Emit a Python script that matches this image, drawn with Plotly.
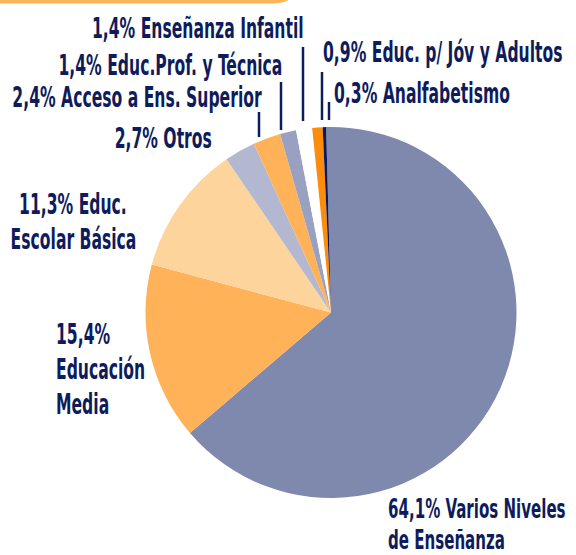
import plotly.graph_objects as go

W, H = 576, 555

categories = ["Varios Niveles de Enseñanza", "Educación Media", "Educ. Escolar Básica",
              "Otros", "Acceso a Ens. Superior", "Educ.Prof. y Técnica",
              "Enseñanza Infantil", "Educ. p/ Jóv y Adultos", "Analfabetismo"]
values = [64.1, 15.4, 11.3, 2.7, 2.4, 1.4, 1.4, 0.9, 0.3]
colors = ["#7f89ad", "#ffb257", "#fdd49b", "#b3b8d0", "#ffb257", "#9aa0bf",
          "#ffffff", "#fb8c0c", "#0b1a5e"]
label_texts = ["64,1% Varios Niveles<br>de Enseñanza", "15,4%<br>Educación<br>Media",
               "11,3% Educ.<br>Escolar Básica", "2,7% Otros", "2,4% Acceso a Ens. Superior",
               "1,4% Educ.Prof. y Técnica", "1,4% Enseñanza Infantil",
               "0,9% Educ. p/ Jóv y Adultos", "0,3% Analfabetismo"]

TEXT = "#0e1c5c"
FONT = "DejaVu Sans Condensed, DejaVu Sans, sans-serif"

def px(x):
    return x / W

def py(y):
    return 1 - y / H

fig = go.Figure(go.Pie(
    labels=categories, values=values, sort=False, direction="clockwise",
    rotation=-1.5, marker=dict(colors=colors, line=dict(width=0)),
    textinfo="none", hoverinfo="label+percent", showlegend=False,
    domain=dict(x=[px(145), px(517)], y=[py(498), py(127)]),
))

# label placement: (pixel x, first-line pixel y, line spacing, xanchor, font size)
placement = [
    (387, 508, 31, "left", 27),
    (55, 334, 35, "left", 28),
    (73, 204, 35, "center", 28),
    (213, 138, 0, "right", 28),
    (263, 97, 0, "right", 28),
    (283, 65, 0, "right", 28),
    (305, 28, 0, "right", 28),
    (322, 52, 0, "left", 28),
    (333, 93, 0, "left", 28),
]
for txt, (x, y, dy, xa, fs) in zip(label_texts, placement):
    for i, line in enumerate(txt.split("<br>")):
        fig.add_annotation(text=line, x=px(x), y=py(y + i * dy), xref="paper", yref="paper",
                           xanchor=xa, yanchor="middle", align=xa, borderpad=0,
                           showarrow=False,
                           font=dict(family=FONT, size=fs, color=TEXT, weight="bold"))

# leader lines
leaders = [(259, 112, 137), (281, 82, 130), (303, 47, 121), (322, 72, 120), (329, 102, 120)]
for x, y0, y1 in leaders:
    fig.add_shape(type="line", xref="paper", yref="paper", x0=px(x), x1=px(x),
                  y0=py(y0), y1=py(y1), line=dict(color=TEXT, width=2.5))

# orange frame edge at top
path = f"M {px(-5)},{py(1.5)} L {px(272)},{py(1.5)} Q {px(285)},{py(1.5)} {px(293)},{py(-5)}"
fig.add_shape(type="path", xref="paper", yref="paper", path=path,
              line=dict(color="#fbb45c", width=4))

fig.update_layout(width=W, height=H, margin=dict(l=0, r=0, t=0, b=0),
                  paper_bgcolor="white", plot_bgcolor="white")

post = """
document.body.style.margin='0';
var gd=document.getElementById('{plot_id}');
function sq(){
  gd.querySelectorAll('g.annotation text.annotation-text').forEach(function(t){
    var a=t.getAttribute('text-anchor')||'middle';
    var o=a==='start'?'left':(a==='end'?'right':'center');
    t.style.transformBox='fill-box';
    t.style.transformOrigin=o+' center';
    t.style.transform='scaleX(0.62)';
  });
}
sq();
gd.on('plotly_afterplot', sq);
"""
fig.write_html("out.html", post_script=post, config={"displayModeBar": False})
